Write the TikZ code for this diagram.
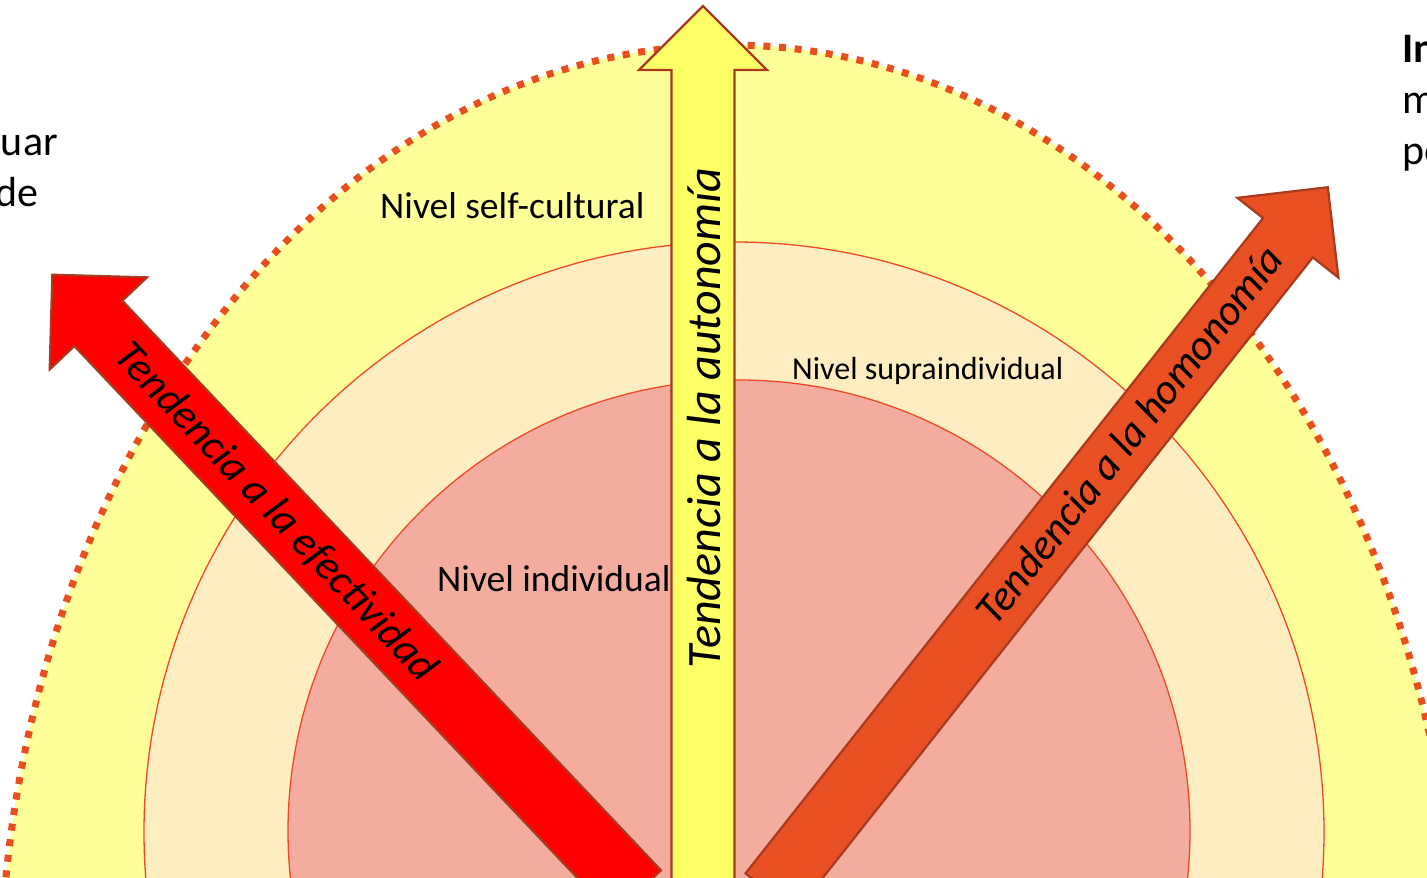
\documentclass[tikz,border=0pt]{standalone}
\usepackage{fontspec}
\setmainfont{Carlito}
\definecolor{outerfill}{HTML}{FFFF99}
\definecolor{midfill}{HTML}{FFEDC2}
\definecolor{innerfill}{HTML}{F4AC9F}
\definecolor{ringline}{HTML}{EE4A28}
\definecolor{dotline}{HTML}{E94E1F}
\definecolor{arrowedge}{HTML}{A83A1E}
\definecolor{autofill}{HTML}{FFFF66}
\definecolor{efecfill}{HTML}{FF0000}
\definecolor{homofill}{HTML}{E84F22}

% Fat block arrow: start point, angle, total length, shaft half width, head half width, style
\newcommand{\fatarrow}[6]{%
  \begin{scope}[shift={(#1)},rotate=#2]
    \filldraw[#6] (0,-#4) -- ({#3-#5},-#4) -- ({#3-#5},-#5) -- (#3,0)
      -- ({#3-#5},#5) -- ({#3-#5},#4) -- (0,#4) -- cycle;
  \end{scope}}

\begin{document}
\begin{tikzpicture}[x=1pt,y=1pt,
  ring/.style={draw=ringline,line width=1.3pt},
  blockarrow/.style={draw=arrowedge,line width=2.2pt,line join=miter},
  levellabel/.style={anchor=base west,inner sep=0pt,font=\fontsize{37.5}{45}\selectfont},
  arrowlabel/.style={inner sep=0pt,font=\fontsize{#1}{55}\selectfont\itshape},
  sidetext/.style={inner sep=0pt,font=\fontsize{42}{51}\selectfont}]
\useasboundingbox (0,0) rectangle (1427,878);
\clip (0,0) rectangle (1427,878);

% Levels: outer dotted self-cultural region and two inner rings
\fill[outerfill] (729,-122) ellipse [x radius=729, y radius=955];
\draw[dotline,line width=7pt,dash pattern=on 7pt off 8.7pt] (729,-122) ellipse [x radius=729, y radius=955];
\filldraw[fill=midfill,ring] (734,46) circle [radius=590];
\filldraw[fill=innerfill,ring] (739,47) circle [radius=451];

% Arrow tails (below the visible area)
\coordinate (efecBase) at (637,-15);
\coordinate (autoBase) at (703,-15);
\coordinate (homoBase) at (770.4,-15);

\fatarrow{efecBase}{133.4}{851}{33}{67}{blockarrow,fill=efecfill}
\fatarrow{homoBase}{51.7}{899.4}{31.7}{64.4}{blockarrow,fill=homofill}
\fatarrow{autoBase}{90}{887}{31.5}{64}{blockarrow,fill=autofill}

% Arrow labels
\node[arrowlabel=48,rotate=90] (autoLabel) at (704,460) {Tendencia a la autonomía};
\node[arrowlabel=43,rotate=-46.6] (efecLabel) at (276,366) {Tendencia a la efectividad};
\node[arrowlabel=43,rotate=51.7] (homoLabel) at (1129,443) {Tendencia a la homonomía};

% Level labels
\node[levellabel] (selfLabel) at (380,659) {Nivel self-cultural};
\node[levellabel,font=\fontsize{32}{38}\selectfont] (supraLabel) at (792,498) {Nivel supraindividual};
\node[levellabel] (indivLabel) at (437,286) {Nivel individual};

% Side text running off the edges
\node[sidetext,anchor=base east] (leftA) at (58,722) {uar};
\node[sidetext,anchor=base east] (leftB) at (39,671) {de};
\node[sidetext,anchor=base west,font=\fontsize{42}{51}\selectfont\bfseries] (rightA) at (1402,815) {In};
\node[sidetext,anchor=base west] (rightB) at (1402,764) {m};
\node[sidetext,anchor=base west] (rightC) at (1402,713) {po};
\end{tikzpicture}
\end{document}
